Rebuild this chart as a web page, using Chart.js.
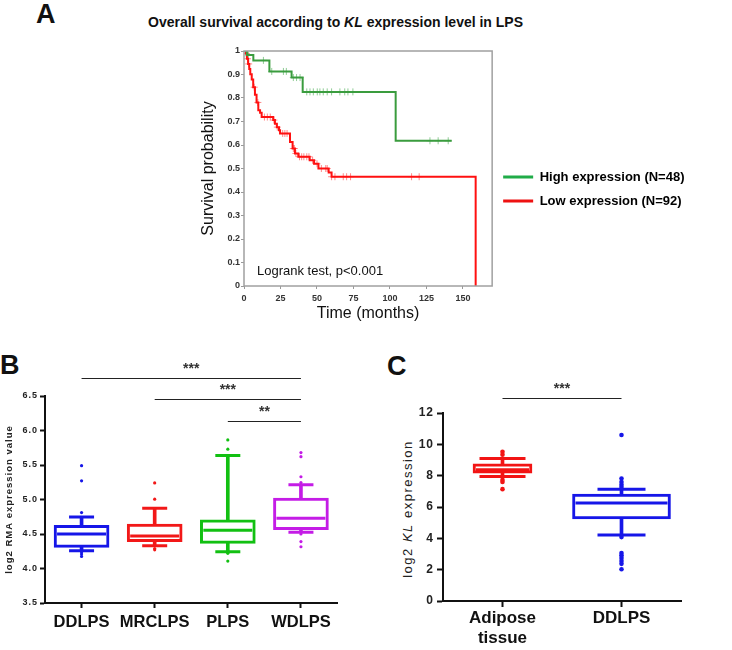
<!DOCTYPE html>
<html>
<head>
<meta charset="utf-8">
<script src="https://cdn.jsdelivr.net/npm/chart.js@4.4.1/dist/chart.umd.min.js"></script>
<style>
  body { margin: 0; background: #fff; width: 732px; height: 650px; position: relative; overflow: hidden;
         font-family: "Liberation Sans", Arial, sans-serif; color: #111; }
  canvas { position: absolute; }
  .tag { position: absolute; font-weight: bold; font-size: 27px; line-height: 27px; }
  .txt { position: absolute; white-space: nowrap; }
</style>
</head>
<body>
<div class="tag" style="left:36px;top:1px">A</div>
<div class="txt" style="left:148px;top:14px;font-size:14px;font-weight:bold;line-height:17px">Overall survival according to <i>KL</i> expression level in LPS</div>
<div class="tag" style="left:0px;top:352px">B</div>
<div class="tag" style="left:387px;top:353px">C</div>
<div class="txt" style="left:318px;top:501px;width:180px;height:16px;line-height:16px;text-align:center;font-size:13px;letter-spacing:1.5px;color:#222;transform:rotate(-90deg)">log2 <i>KL</i> expression</div>

<canvas id="km" width="537" height="287" style="left:195px;top:40px"></canvas>
<canvas id="boxB" width="365" height="295" style="left:0px;top:355px"></canvas>
<canvas id="boxC" width="350" height="295" style="left:380px;top:355px"></canvas>

<script>
Chart.defaults.font.family = '"Liberation Sans", Arial, sans-serif'
Chart.defaults.color = '#222'
Chart.defaults.animation = false

// A - Kaplan-Meier, event times (months) and survival after each step
const highTimes = [0, 2, 6.4, 17.4, 32.6, 40.2, 103.9, 142.3]
const highSurv = [1, 0.983, 0.96, 0.913, 0.887, 0.826, 0.618, 0.618]
const highCensor = [3, 13.3, 19, 27, 29, 33.8, 36, 38.4, 43, 45.2, 47.5, 50.2, 52, 54.3, 57, 60, 65.7, 69, 71.2, 74.6, 127.4, 133, 139.9]

const lowTimes = [0, 1.2, 2, 2.8, 3.6, 4.3, 5.3, 6.3, 7.5, 8.6, 9.8, 11, 12.1, 20, 21.2, 22.5, 24, 24.7, 31.5, 33.3, 34.9, 37.2, 45, 48, 51, 58, 60, 158.7]
const lowSurv = [1, 0.989, 0.967, 0.945, 0.923, 0.901, 0.879, 0.846, 0.814, 0.781, 0.748, 0.737, 0.719, 0.706, 0.69, 0.676, 0.663, 0.649, 0.613, 0.585, 0.564, 0.55, 0.535, 0.52, 0.5, 0.483, 0.465, 0]
const lowCensor = [1.6, 2.4, 3.2, 7, 9.5, 14, 16, 18, 20.5, 22.8, 26.5, 28, 29.5, 33.8, 34.5, 35.5, 38, 39.5, 41, 43, 44.5, 47, 50, 53, 56, 57, 60, 62.3, 68, 70.3, 73, 114.8, 120]

// B - log2 RMA expression by subtype
const catsB = ['DDLPS', 'MRCLPS', 'PLPS', 'WDLPS']
const loB = [4.257, 4.33, 4.243, 4.527]
const q1B = [4.306, 4.39, 4.363, 4.561]
const medB = [4.5, 4.47, 4.556, 4.73]
const q3B = [4.624, 4.643, 4.706, 5.02]
const hiB = [4.745, 4.875, 5.637, 5.212]
const outB = [
  [5.49, 5.27, 4.81, 4.24, 4.21, 4.175],
  [5.24, 5.005, 4.29, 4.27],
  [5.864, 5.729, 4.22, 4.108],
  [5.68, 5.62, 5.33, 5.246, 4.5, 4.39, 4.315]
]
const bracketsB = [
  { from: 0, to: 3, level: 6.76, text: '***' },
  { from: 1, to: 3, level: 6.456, text: '***' },
  { from: 2, to: 3, level: 6.14, text: '**' }
]

// C - log2 KL expression, adipose tissue vs DDLPS
const catsC = ['Adipose tissue', 'DDLPS']
const tickC = [['Adipose', 'tissue'], 'DDLPS']
const loC = [7.94, 4.22]
const q1C = [8.16, 5.24]
const medC = [8.37, 6.25]
const q3C = [8.75, 6.82]
const hiC = [9.09, 7.14]
const outC = [
  [9.53, 9.34, 7.73, 7.6, 7.14],
  [10.6, 7.82, 7.6, 7.42, 7.27, 4.08, 3.06, 2.92, 2.75, 2.56, 2.37, 2.03]
]
const bracketsC = [{ from: 0, to: 1, level: 12.96, text: '***' }]

const steps = (t, s) => t.map((v, i) => ({ x: v, y: s[i] }))
function survAt(t, s, time) {
  let v = s[0]
  for (let i = 0; i < t.length; i++) if (t[i] <= time) v = s[i]
  return v
}
const marks = (t, s, c) => c.map(x => ({ x, y: survAt(t, s, x) }))

const framePlugin = {
  id: 'frame',
  afterDatasetsDraw(chart) {
    const { ctx, chartArea: a } = chart
    ctx.save()
    ctx.strokeStyle = '#a0a0a0'
    ctx.lineWidth = 1.5
    ctx.strokeRect(a.left, a.top, a.right - a.left, a.bottom - a.top)
    ctx.restore()
  }
}

const notePlugin = {
  id: 'note',
  afterDraw(chart, args, opts) {
    const { ctx, chartArea: a } = chart
    ctx.save()
    ctx.font = '13px "Liberation Sans", Arial'
    ctx.fillStyle = '#111'
    ctx.textBaseline = 'middle'
    ctx.fillText(opts.text, a.left + 13, a.bottom - 15)
    ctx.restore()
  }
}

const bracketPlugin = {
  id: 'brackets',
  afterDraw(chart, args, opts) {
    const { ctx, scales: { x, y } } = chart
    ctx.save()
    ctx.strokeStyle = '#222'
    ctx.lineWidth = 1.2
    ctx.fillStyle = '#333'
    ctx.font = 'bold 14px "Liberation Sans", Arial'
    ctx.textAlign = 'center'
    opts.items.forEach(b => {
      const x1 = x.getPixelForValue(b.from)
      const x2 = x.getPixelForValue(b.to)
      const yy = Math.round(y.getPixelForValue(b.level)) + 0.5
      ctx.beginPath()
      ctx.moveTo(x1, yy)
      ctx.lineTo(x2, yy)
      ctx.stroke()
      ctx.fillText(b.text, (x1 + x2) / 2, yy - 6)
    })
    ctx.restore()
  }
}

// letter spacing on the value axis labels
const spacingPlugin = {
  id: 'spacing',
  beforeLayout(chart, args, opts) {
    const s = chart.scales.y
    if (!s || s._spaced) return
    const draw = s.draw.bind(s)
    s.draw = area => {
      chart.ctx.letterSpacing = (opts.px || 0) + 'px'
      draw(area)
      chart.ctx.letterSpacing = '0px'
    }
    s._spaced = true
  }
}

new Chart(document.getElementById('km'), {
  type: 'line',
  data: {
    datasets: [
      { label: 'High expression (N=48)', data: steps(highTimes, highSurv), borderColor: '#3a9c3e', legendColor: '#20ac48',
        borderWidth: 2, stepped: 'before', pointRadius: 0 },
      { label: 'Low expression (N=92)', data: steps(lowTimes, lowSurv), borderColor: '#ff1010', legendColor: '#ee1111',
        borderWidth: 2, stepped: 'before', pointRadius: 0 },
      { label: 'high censored', data: marks(highTimes, highSurv, highCensor), showLine: false,
        pointStyle: 'cross', pointRadius: 3.5, pointBorderWidth: 1, pointBorderColor: 'rgba(70,170,80,0.6)' },
      { label: 'low censored', data: marks(lowTimes, lowSurv, lowCensor), showLine: false,
        pointStyle: 'cross', pointRadius: 3.5, pointBorderWidth: 1, pointBorderColor: 'rgba(255,60,60,0.6)' }
    ]
  },
  options: {
    responsive: false,
    events: [],
    layout: { padding: { top: 11, right: 37.5 } },
    scales: {
      x: {
        type: 'linear', min: 0, max: 170,
        afterFit: s => { s.height = 41 },
        ticks: { stepSize: 25, includeBounds: false, maxRotation: 0, padding: 4, color: '#333', font: { size: 9, weight: 'bold' } },
        grid: { drawOnChartArea: false, tickLength: 3, color: '#999' },
        border: { display: false },
        title: { display: true, text: 'Time (months)', font: { size: 16 }, padding: 4, color: '#111' }
      },
      y: {
        min: 0, max: 1,
        afterFit: s => { s.width = 49 },
        ticks: { stepSize: 0.1, padding: 1, color: '#333', font: { size: 9, weight: 'bold' },
                 callback: v => String(+v.toFixed(1)) },
        grid: { drawOnChartArea: false, tickLength: 3, color: '#999' },
        border: { display: false },
        title: { display: true, text: 'Survival probability', font: { size: 16 }, padding: 4, color: '#111' }
      }
    },
    plugins: {
      legend: {
        position: 'right',
        maxWidth: 240,
        labels: {
          boxWidth: 30, boxHeight: 3, padding: 11, color: '#222',
          font: { size: 13, weight: 'bold' },
          generateLabels: chart => chart.data.datasets.slice(0, 2).map((d, i) => ({
            text: d.label, fillStyle: d.legendColor, strokeStyle: d.legendColor, lineWidth: 0, datasetIndex: i, hidden: false
          }))
        }
      },
      tooltip: { enabled: false },
      note: { text: 'Logrank test, p<0.001' }
    }
  },
  plugins: [framePlugin, notePlugin]
})

function boxDatasets(cats, lo, q1, med, q3, hi, out, colors, look) {
  const sets = []
  sets.push({
    type: 'bar', data: cats.map((c, i) => [lo[i], hi[i]]), backgroundColor: colors,
    barThickness: 3, grouped: false, order: 3
  })
  cats.forEach((c, i) => {
    sets.push({
      type: 'bar', data: cats.map((_, j) => (j === i ? [q1[i], q3[i]] : null)),
      backgroundColor: '#fff', borderColor: colors[i], borderWidth: 3, borderSkipped: false,
      barThickness: look.boxW[i], grouped: false, order: 2
    })
  })
  sets.push({
    type: 'line', showLine: false, order: 1,
    data: cats.map((c, i) => ({ x: c, y: med[i] })),
    pointStyle: 'line', pointRadius: look.medR, pointBorderWidth: 3, pointBorderColor: colors
  })
  sets.push({
    type: 'line', showLine: false, order: 1,
    data: cats.flatMap((c, i) => [{ x: c, y: lo[i] }, { x: c, y: hi[i] }]),
    pointStyle: 'line', pointRadius: cats.flatMap((c, i) => [look.capR[i], look.capR[i]]),
    pointBorderWidth: 3, pointBorderColor: cats.flatMap((c, i) => [colors[i], colors[i]])
  })
  sets.push({
    type: 'line', showLine: false, order: 0,
    data: cats.flatMap((c, i) => out[i].map(v => ({ x: c, y: v }))),
    pointStyle: 'circle', pointRadius: look.dotR, pointBorderWidth: 0,
    pointBackgroundColor: cats.flatMap((c, i) => out[i].map(() => colors[i]))
  })
  return sets
}

const axisGrid = len => ({ drawOnChartArea: false, offset: false, tickLength: len, tickWidth: 2, tickColor: '#111' })
const axisBorder = { color: '#111', width: 2 }

new Chart(document.getElementById('boxB'), {
  type: 'bar',
  data: {
    labels: catsB,
    datasets: boxDatasets(catsB, loB, q1B, medB, q3B, hiB, outB,
      ['#1616e8', '#f21818', '#12c012', '#c41ce6'],
      { boxW: [55, 55, 55, 55], medR: [24.5, 24.5, 24.5, 24.5], capR: [12.5, 12.5, 12.5, 12.5], dotR: 1.6 })
  },
  options: {
    responsive: false,
    events: [],
    layout: { padding: { top: 41, right: 8 } },
    scales: {
      x: {
        afterFit: s => { s.height = 47 },
        ticks: { padding: 5, maxRotation: 0, autoSkip: false, color: '#111', font: { size: 16.5, weight: 'bold' } },
        grid: axisGrid(5), border: axisBorder
      },
      y: {
        min: 3.5, max: 6.5,
        afterFit: s => { s.width = 45 },
        ticks: { stepSize: 0.5, padding: 2, color: '#222', font: { size: 9, weight: 'bold' }, callback: v => v.toFixed(1) },
        grid: axisGrid(5), border: axisBorder,
        title: { display: true, text: 'log2 RMA expression value', padding: 4, color: '#222', font: { size: 9.5, weight: 'bold' } }
      }
    },
    plugins: {
      legend: { display: false },
      tooltip: { enabled: false },
      brackets: { items: bracketsB },
      spacing: { px: 1 }
    }
  },
  plugins: [bracketPlugin, spacingPlugin]
})

new Chart(document.getElementById('boxC'), {
  type: 'bar',
  data: {
    labels: catsC,
    datasets: boxDatasets(catsC, loC, q1C, medC, q3C, hiC, outC,
      ['#f21414', '#1616e8'],
      { boxW: [59, 98], medR: [26.5, 46], capR: [23, 24], dotR: 2.3 })
  },
  options: {
    responsive: false,
    events: [],
    layout: { padding: { top: 58, right: 7 } },
    scales: {
      x: {
        afterFit: s => { s.height = 47 },
        ticks: { padding: 1, maxRotation: 0, autoSkip: false, color: '#111', font: { size: 17, weight: 'bold' },
                 callback: (v, i) => tickC[i] },
        grid: axisGrid(6), border: axisBorder
      },
      y: {
        min: 0, max: 12,
        afterFit: s => { s.width = 63 },
        ticks: { stepSize: 2, padding: 3, color: '#222', font: { size: 12, weight: 'bold' } },
        grid: axisGrid(6), border: axisBorder
      }
    },
    plugins: {
      legend: { display: false },
      tooltip: { enabled: false },
      brackets: { items: bracketsC },
      spacing: { px: 1 }
    }
  },
  plugins: [bracketPlugin, spacingPlugin]
})
</script>
</body>
</html>
